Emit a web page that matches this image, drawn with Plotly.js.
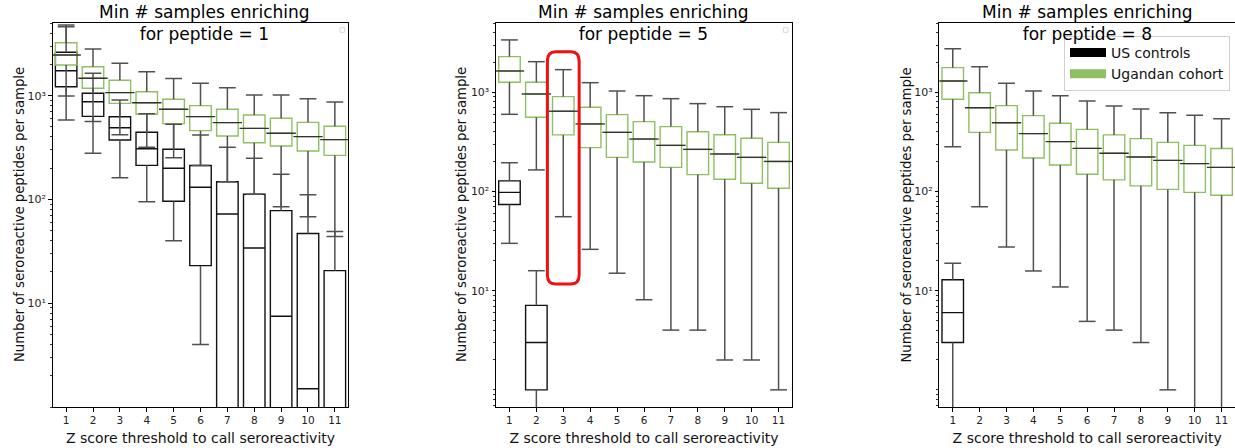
<!DOCTYPE html>
<html><head><meta charset="utf-8">
<script src="https://cdn.plot.ly/plotly-3.0.1.min.js"></script>
<style>html,body{margin:0;padding:0;background:#fff}#chart{width:1235px;height:448px}</style>
</head><body><div id="chart"></div>
<script>
// ---------------- data ----------------
const zThresholds = [1, 2, 3, 4, 5, 6, 7, 8, 9, 10, 11];
const zLabels = ['1', '2', '3', '4', '5', '6', '7', '8', '9', '10', '11'];
const minSamples = [1, 5, 8];
const seriesNames = ['US controls', 'Ugandan cohort'];
const yTickVals = [10, 100, 1000];
const yTickText = ['10\u00b9', '10\u00b2', '10\u00b3'];
const xTitle = 'Z score threshold to call seroreactivity';
const yTitle = 'Number of seroreactive peptides per sample';
const ZERO = 0.01; // zero counts (off the bottom of the log axis)

// Panel 1: min # samples enriching = 1
const p1UsLo  = [583, 279, 162, 95, 40, 4, ZERO, ZERO, ZERO, ZERO, ZERO];
const p1UsQ1  = [1220, 632, 374, 213, 96, 23, ZERO, ZERO, ZERO, ZERO, ZERO];
const p1UsMed = [1740, 874, 491, 308, 200, 131, 72.5, 34, 7.5, 1.5, ZERO];
const p1UsQ3  = [2618, 1054, 627, 444, 304, 212, 148, 112, 78, 47, 20.6];
const p1UsHi  = [4800, 1641, 908, 670, 530, 418, 318, 249, 175, 111, 49];
const p1UgLo  = [993, 562, 420, 318, 252, 212, 148, 112, 85, 68, 44];
const p1UgQ1  = [1972, 1178, 843, 661, 537, 460, 408, 352, 327, 293, 266];
const p1UgMed = [2465, 1470, 1069, 855, 740, 628, 550, 484, 434, 403, 377];
const p1UgQ3  = [3236, 1900, 1405, 1092, 922, 801, 740, 652, 605, 553, 507];
const p1UgHi  = [4615, 2818, 2050, 1702, 1459, 1315, 1194, 1015, 1015, 935, 869];

// Panel 2: min # samples enriching = 5
const p2UsLo  = [30, ZERO, ZERO, ZERO, ZERO, ZERO, ZERO, ZERO, ZERO, ZERO, ZERO];
const p2UsQ1  = [74, 1.0, ZERO, ZERO, ZERO, ZERO, ZERO, ZERO, ZERO, ZERO, ZERO];
const p2UsMed = [98, 3.0, ZERO, ZERO, ZERO, ZERO, ZERO, ZERO, ZERO, ZERO, ZERO];
const p2UsQ3  = [128, 7.1, ZERO, ZERO, ZERO, ZERO, ZERO, ZERO, ZERO, ZERO, ZERO];
const p2UsHi  = [195, 15.9, ZERO, ZERO, ZERO, ZERO, ZERO, ZERO, ZERO, ZERO, ZERO];
const p2UgLo  = [600, 165, 55.7, 26.1, 15, 8.1, 4.0, 4.0, 2.0, 2.0, 1.0];
const p2UgQ1  = [1262, 560, 372, 277, 221, 198, 175, 148, 133, 121, 108];
const p2UgMed = [1641, 962, 645, 480, 395, 338, 292, 266, 239, 221, 201];
const p2UgQ3  = [2291, 1262, 904, 706, 596, 506, 451, 401, 374, 344, 313];
const p2UgHi  = [3375, 2037, 1693, 1251, 1031, 925, 863, 769, 716, 674, 624];

// Panel 3: min # samples enriching = 8
const p3UsLo  = [ZERO, ZERO, ZERO, ZERO, ZERO, ZERO, ZERO, ZERO, ZERO, ZERO, ZERO];
const p3UsQ1  = [3.0, ZERO, ZERO, ZERO, ZERO, ZERO, ZERO, ZERO, ZERO, ZERO, ZERO];
const p3UsMed = [6.0, ZERO, ZERO, ZERO, ZERO, ZERO, ZERO, ZERO, ZERO, ZERO, ZERO];
const p3UsQ3  = [12.9, ZERO, ZERO, ZERO, ZERO, ZERO, ZERO, ZERO, ZERO, ZERO, ZERO];
const p3UsHi  = [18.9, ZERO, ZERO, ZERO, ZERO, ZERO, ZERO, ZERO, ZERO, ZERO, ZERO];
const p3UgLo  = [283, 70.3, 27.5, 15.8, 10.9, 4.9, 4.0, 3.0, 1.0, ZERO, ZERO];
const p3UgQ1  = [850, 395, 262, 218, 185, 149, 131, 114, 105, 98, 91.5];
const p3UgMed = [1301, 700, 494, 383, 318, 272, 243, 223, 206, 191, 175];
const p3UgQ3  = [1774, 991, 735, 582, 487, 423, 372, 341, 313, 292, 271];
const p3UgHi  = [2754, 1814, 1232, 1031, 925, 818, 728, 680, 624, 586, 542];

// ---------------- styling / layout ----------------
const W = 1235, H = 448;
const FONT = 'DejaVu Sans, Verdana, sans-serif';
const US_COLOR = '#111111';
const UG_COLOR = '#8fbf62';
const WHISKER_COLOR = '#505050';
const MEDIAN_UG_COLOR = '#333333';

const panels = [
  {us: [p1UsLo, p1UsQ1, p1UsMed, p1UsQ3, p1UsHi], ug: [p1UgLo, p1UgQ1, p1UgMed, p1UgQ3, p1UgHi]},
  {us: [p2UsLo, p2UsQ1, p2UsMed, p2UsQ3, p2UsHi], ug: [p2UgLo, p2UgQ1, p2UgMed, p2UgQ3, p2UgHi]},
  {us: [p3UsLo, p3UsQ1, p3UsMed, p3UsQ3, p3UsHi], ug: [p3UgLo, p3UgQ1, p3UgMed, p3UgQ3, p3UgHi]}
];
const xDomains = [[52.7 / W, 348.3 / W], [496 / W, 792 / W], [939.3 / W, 1]];
const yDomain = [1 - 407 / H, 1 - 23 / H];
const yRanges = [[0, 3.70], [-0.173, 3.699], [-0.173, 3.699]];
const titleX = [204.4, 644, 1087.5];
const yTitleX = [19, 461, 905.5];

const minorVals = [];
for (let k = -1; k <= 3; k++) for (let d = 2; d <= 9; d++) minorVals.push(d * Math.pow(10, k));
minorVals.push(1);

const traces = [];
panels.forEach((p, i) => {
  const xa = i === 0 ? 'x' : 'x' + (i + 1);
  const ya = i === 0 ? 'y' : 'y' + (i + 1);
  [['us', US_COLOR], ['ug', UG_COLOR]].forEach(([key, col]) => {
    const [lo, q1, med, q3, hi] = p[key];
    // boxes (quartiles + median)
    traces.push({
      type: 'box', xaxis: xa, yaxis: ya, x: zThresholds,
      q1: q1, median: med, q3: q3, lowerfence: q1, upperfence: q3,
      width: 0.8, whiskerwidth: 0, boxpoints: false,
      line: {color: col, width: 1.4}, fillcolor: 'rgba(0,0,0,0)',
      name: key === 'us' ? seriesNames[0] : seriesNames[1], showlegend: false, hoverinfo: 'skip'
    });
    // whiskers
    const wx = [], wy = [];
    zThresholds.forEach((z, j) => {
      wx.push(z, z, null, z, z, null);
      wy.push(q3[j], hi[j], null, q1[j], lo[j], null);
    });
    traces.push({
      type: 'scatter', mode: 'lines', xaxis: xa, yaxis: ya, x: wx, y: wy,
      line: {color: WHISKER_COLOR, width: 1.5}, showlegend: false, hoverinfo: 'skip', connectgaps: false
    });
    // whisker caps
    traces.push({
      type: 'scatter', mode: 'markers', xaxis: xa, yaxis: ya,
      x: zThresholds.concat(zThresholds), y: hi.concat(lo),
      marker: {symbol: 'line-ew', size: 12, color: WHISKER_COLOR, line: {color: WHISKER_COLOR, width: 1.5}},
      showlegend: false, hoverinfo: 'skip'
    });
    if (key === 'ug') {
      traces.push({
        type: 'scatter', mode: 'markers', xaxis: xa, yaxis: ya, x: zThresholds, y: med,
        marker: {symbol: 'line-ew', size: 21, color: MEDIAN_UG_COLOR, line: {color: MEDIAN_UG_COLOR, width: 1.4}},
        showlegend: false, hoverinfo: 'skip'
      });
    }
  });
});
// legend entries
[[seriesNames[0], '#000000'], [seriesNames[1], '#8fbf62']].forEach(([nm, col]) => {
  traces.push({type: 'scatter', mode: 'lines', xaxis: 'x3', yaxis: 'y3', x: [null], y: [null],
    name: nm, line: {color: col, width: 9}, showlegend: true, hoverinfo: 'skip'});
});

const layout = {
  width: W, height: H,
  margin: {l: 0, r: 0, t: 0, b: 0},
  paper_bgcolor: '#ffffff', plot_bgcolor: '#ffffff',
  font: {family: FONT, color: '#111111'},
  showlegend: true,
  legend: {x: 1064 / W, y: 1 - 36 / H, xanchor: 'left', yanchor: 'top',
    bgcolor: '#ffffff', bordercolor: '#d0d0d0', borderwidth: 1,
    font: {family: FONT, size: 14, color: '#111111'}, itemwidth: 36, tracegroupgap: 0},
  annotations: [],
  shapes: [
    // red highlight around threshold 3 in panel 2
    {type: 'path', xref: 'x2', yref: 'paper', line: {color: '#ee1111', width: 3},
     path: (function () {
       const x0 = 2.41, x1 = 3.59, y0 = 1 - 284 / H, y1 = 1 - 51.7 / H, rx = 0.3, ry = 9 / H;
       return `M${x0 + rx},${y1} L${x1 - rx},${y1} Q${x1},${y1} ${x1},${y1 - ry} L${x1},${y0 + ry} Q${x1},${y0} ${x1 - rx},${y0} L${x0 + rx},${y0} Q${x0},${y0} ${x0},${y0 + ry} L${x0},${y1 - ry} Q${x0},${y1} ${x0 + rx},${y1} Z`;
     })()},
    // empty legend placeholders in panels 1 and 2
    {type: 'rect', xref: 'paper', yref: 'paper', x0: 340 / W, x1: 344.5 / W, y0: 1 - 32.3 / H, y1: 1 - 27.7 / H,
     line: {color: '#d8d8d8', width: 1}},
    {type: 'rect', xref: 'paper', yref: 'paper', x0: 783.5 / W, x1: 788 / W, y0: 1 - 32.3 / H, y1: 1 - 27.7 / H,
     line: {color: '#d8d8d8', width: 1}}
  ]
};

for (let i = 0; i < 3; i++) {
  const sfx = i === 0 ? '' : String(i + 1);
  layout['xaxis' + sfx] = {
    domain: xDomains[i], anchor: 'y' + sfx, range: [0.5, 11.5], type: 'linear',
    tickmode: 'array', tickvals: zThresholds, ticktext: zLabels,
    ticks: 'outside', ticklen: 3.5, tickwidth: 1, tickcolor: '#000',
    showline: true, linecolor: '#000', linewidth: 1, mirror: true,
    showgrid: false, zeroline: false,
    tickfont: {family: FONT, size: 10.5, color: '#222'},
    title: {text: xTitle, font: {family: FONT, size: 14, color: '#111'}, standoff: 8}
  };
  layout['yaxis' + sfx] = {
    domain: yDomain, anchor: 'x' + sfx, type: 'log', range: yRanges[i],
    tickmode: 'array', tickvals: yTickVals, ticktext: yTickText,
    ticks: 'outside', ticklen: 3.5, tickwidth: 1, tickcolor: '#000',
    minor: {tickmode: 'array', tickvals: minorVals, ticks: 'outside', ticklen: 2, tickwidth: 0.8, tickcolor: '#000', showgrid: false},
    showline: true, linecolor: '#000', linewidth: 1, mirror: i < 2,
    showgrid: false, zeroline: false,
    tickfont: {family: FONT, size: 11, color: '#222'}
  };
  // y-axis title (placed precisely as rotated annotation)
  layout.annotations.push({xref: 'paper', yref: 'paper', x: yTitleX[i] / W, y: 1 - 215 / H,
    text: yTitle, textangle: -90, showarrow: false, xanchor: 'center', yanchor: 'middle',
    font: {family: FONT, size: 13.2, color: '#111'}});
  // panel title (two lines)
  layout.annotations.push({xref: 'paper', yref: 'paper', x: titleX[i] / W, y: 1 - 22.5 / H,
    text: 'Min # samples enriching<br>for peptide = ' + minSamples[i], showarrow: false,
    xanchor: 'center', yanchor: 'middle', align: 'center',
    font: {family: FONT, size: 17, color: '#000'}});
}

Plotly.newPlot('chart', traces, layout, {staticPlot: true, displayModeBar: false});
</script>
</body></html>
